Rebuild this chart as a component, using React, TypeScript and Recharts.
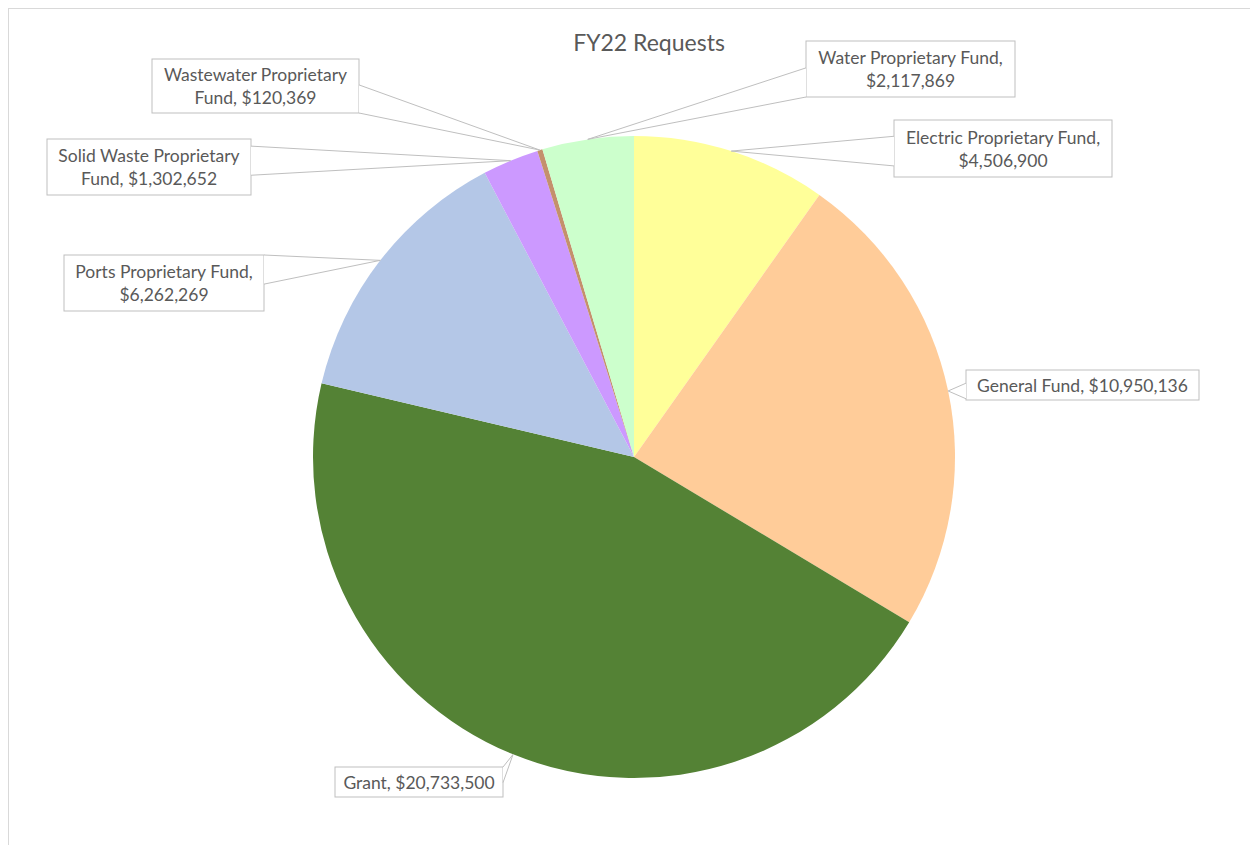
import React from "react";
import { PieChart, Pie, Cell } from "recharts";

const categories = [
  "Electric Proprietary Fund",
  "General Fund",
  "Grant",
  "Ports Proprietary Fund",
  "Solid Waste Proprietary Fund",
  "Wastewater Proprietary Fund",
  "Water Proprietary Fund",
];
const requests = [4506900, 10950136, 20733500, 6262269, 1302652, 120369, 2117869];
const sliceColors = ["#FFFF99", "#FFCC99", "#548235", "#B4C7E7", "#CC99FF", "#C4906C", "#CCFFCC"];

// callout boxes: x, y, w, h and how many words go on the first line
const callouts = [
  { x: 885, y: 111, w: 218, h: 57, words: 3 },
  { x: 957, y: 361, w: 233, h: 30, words: 0 },
  { x: 326, y: 758, w: 168, h: 30, words: 0 },
  { x: 55, y: 246, w: 200, h: 56, words: 3 },
  { x: 38, y: 130, w: 204, h: 56, words: 3 },
  { x: 143, y: 50, w: 207, h: 54, words: 2 },
  { x: 797, y: 32, w: 209, h: 56, words: 3 },
];

const data = categories.map((name, i) => ({ name, value: requests[i] }));

const RAD = Math.PI / 180;
const textColor = "#595959";
const boxStroke = "#BFBFBF";

const Callout = (props: any) => {
  const { cx, cy, midAngle, outerRadius, index } = props;
  const box = callouts[index];
  const tx = cx + outerRadius * Math.cos(-midAngle * RAD);
  const ty = cy + outerRadius * Math.sin(-midAngle * RAD);
  const text = `${categories[index]}, $${requests[index].toLocaleString("en-US")}`;
  const words = text.split(" ");
  const lines = box.words ? [words.slice(0, box.words).join(" "), words.slice(box.words).join(" ")] : [text];

  // wedge base on the side facing the tip
  let p1: [number, number], p2: [number, number];
  const half = Math.min(box.h, box.w) * 0.26;
  if (tx > box.x + box.w) {
    const c = Math.max(box.y + half, Math.min(box.y + box.h - half, ty));
    p1 = [box.x + box.w, c - half];
    p2 = [box.x + box.w, c + half];
  } else if (tx < box.x) {
    const c = Math.max(box.y + half, Math.min(box.y + box.h - half, ty));
    p1 = [box.x, c - half];
    p2 = [box.x, c + half];
  } else if (ty < box.y) {
    const c = Math.max(box.x + half, Math.min(box.x + box.w - half, tx));
    p1 = [c - half, box.y];
    p2 = [c + half, box.y];
  } else {
    const c = Math.max(box.x + half, Math.min(box.x + box.w - half, tx));
    p1 = [c - half, box.y + box.h];
    p2 = [c + half, box.y + box.h];
  }

  const lineH = 23;
  const startY = box.y + box.h / 2 - ((lines.length - 1) * lineH) / 2;
  return (
    <g>
      <rect x={box.x} y={box.y} width={box.w} height={box.h} fill="#FFFFFF" stroke={boxStroke} strokeWidth={1} />
      <polygon points={`${tx},${ty} ${p1[0]},${p1[1]} ${p2[0]},${p2[1]}`} fill="#FFFFFF" stroke="none" />
      <line x1={tx} y1={ty} x2={p1[0]} y2={p1[1]} stroke={boxStroke} strokeWidth={1} />
      <line x1={tx} y1={ty} x2={p2[0]} y2={p2[1]} stroke={boxStroke} strokeWidth={1} />
      {lines.map((l, k) => (
        <text
          key={k}
          x={box.x + box.w / 2}
          y={startY + k * lineH}
          textAnchor="middle"
          dominantBaseline="central"
          fill={textColor}
          fontSize={17.5}
          fontFamily="Lato, sans-serif"
        >
          {l}
        </text>
      ))}
    </g>
  );
};

export default function App() {
  return (
    <div
      style={{
        position: "relative",
        width: 1248,
        height: 840,
        border: "1px solid #D9D9D9",
        background: "#FFFFFF",
        fontFamily: "Lato, sans-serif",
      }}
    >
      <div
        style={{
          position: "absolute",
          left: 32,
          right: 0,
          top: 19,
          textAlign: "center",
          fontSize: 23,
          color: textColor,
        }}
      >
        FY22 Requests
      </div>
      <PieChart width={1248} height={840}>
        <Pie
          data={data}
          dataKey="value"
          nameKey="name"
          cx={620}
          cy={443}
          outerRadius={321}
          startAngle={90}
          endAngle={-270}
          stroke="none"
          labelLine={false}
          label={Callout}
          isAnimationActive={false}
        >
          {data.map((d, i) => (
            <Cell key={d.name} fill={sliceColors[i]} />
          ))}
        </Pie>
      </PieChart>
    </div>
  );
}
